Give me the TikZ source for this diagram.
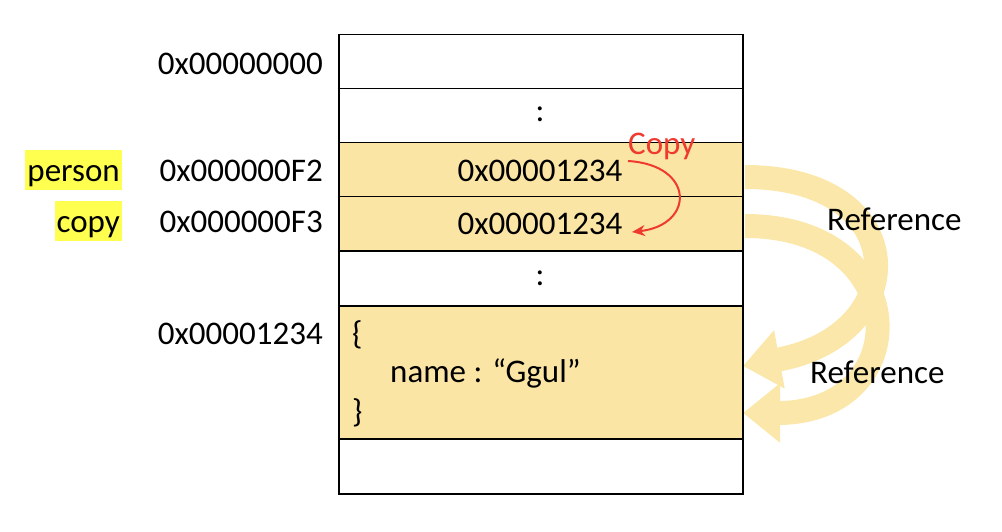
\documentclass[tikz,border=0pt]{standalone}
\usepackage{fontspec}
\setmainfont{Carlito}
\usetikzlibrary{arrows.meta}
\definecolor{cellfill}{HTML}{FBE5A5}
\definecolor{arrowfill}{HTML}{FCE7AA}
\definecolor{hl}{HTML}{FFFF4F}
\definecolor{copyred}{HTML}{EE3A2F}
\begin{document}
\begin{tikzpicture}[x=1pt,y=-1pt,
  font=\fontsize{33}{40}\selectfont,
  cell/.style={draw, line width=1.5pt, minimum width=404pt, inner sep=0pt, anchor=north west},
  filled/.style={cell, fill=cellfill},
  lbl/.style={inner sep=0pt, anchor=base east},
  txt/.style={inner sep=0pt, anchor=base},
  hlbox/.style={fill=hl, inner sep=0pt, inner xsep=2pt, text height=32pt, text depth=8pt, anchor=base east},
  refarrow/.style={draw=arrowfill, line width=24pt, -{Triangle[length=37pt,width=57pt,fill=arrowfill]}},
  copyarrow/.style={draw=copyred, line width=2pt, -{Stealth[length=13pt,width=11pt]}}
]
\useasboundingbox (0,0) rectangle (1002,532);

% reference arrows (behind)
\coordinate (s1) at (745,177);
\coordinate (e1) at (743,366);
\coordinate (s2) at (745,226);
\coordinate (e2) at (743,413);
\draw[refarrow] (s2) .. controls (916,226) and (916,413) .. (e2);
\draw[refarrow] (s1) .. controls (914,177) and (914,335) .. (e1);

% memory cells
\node[cell, minimum height=54pt] (c1) at (338,34) {};
\node[cell, minimum height=54pt] (c2) at (338,88) {};
\node[filled, minimum height=54pt] (c3) at (338,142) {};
\node[filled, minimum height=54pt] (c4) at (338,196) {};
\node[cell, minimum height=55pt] (c5) at (338,250) {};
\node[filled, minimum height=133pt] (c6) at (338,305) {};
\node[cell, minimum height=55pt] (c7) at (338,438) {};

% cell contents
\node[txt] (d1) at (540,122) {:};
\node[txt] (v1) at (540,182) {0x00001234};
\node[txt] (v2) at (540,234) {0x00001234};
\node[txt] (d2) at (540,285) {:};
\node[inner sep=0pt, anchor=base west] (o1) at (352,344) {\{};
\node[inner sep=0pt, anchor=base west] (o2) at (390,382) {name : “Ggul”};
\node[inner sep=0pt, anchor=base west] (o3) at (352,422) {\}};

% addresses
\node[lbl] (a1) at (323,75) {0x00000000};
\node[lbl] (a2) at (323,182) {0x000000F2};
\node[lbl] (a3) at (323,233) {0x000000F3};
\node[lbl] (a4) at (323,344) {0x00001234};

% variable names
\node[hlbox] (n1) at (122,182) {person};
\node[hlbox] (n2) at (122,233) {copy};

% copy arrow
\coordinate (cs) at (628,161);
\coordinate (ce) at (632,232);
\draw[copyarrow] (cs) .. controls (695,165) and (695,225) .. (ce);
\node[inner sep=0pt, anchor=base west, text=copyred] (cp) at (628,155) {Copy};

% reference labels
\node[inner sep=0pt, anchor=base west] (r1) at (827,230) {Reference};
\node[inner sep=0pt, anchor=base west] (r2) at (810,383) {Reference};
\end{tikzpicture}
\end{document}
